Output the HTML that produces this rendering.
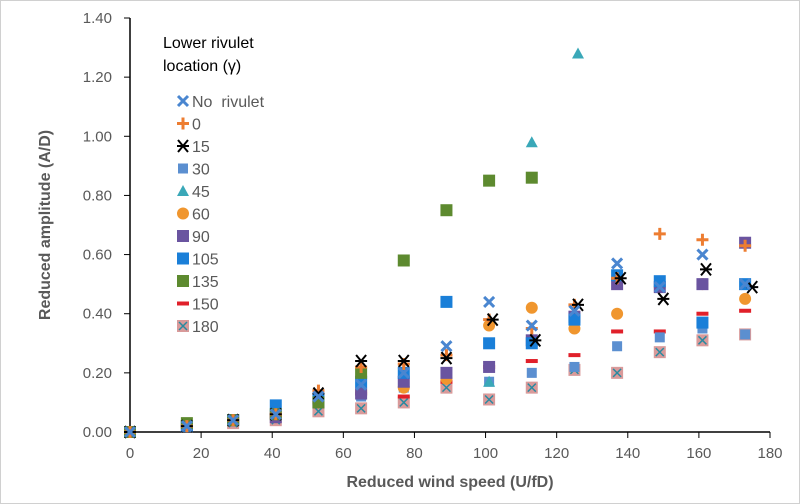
<!DOCTYPE html>
<html><head><meta charset="utf-8"><style>
body{margin:0;background:#fff}
svg{display:block;font-family:"Liberation Sans",Arial,sans-serif}
</style></head><body>
<svg width="800" height="504" viewBox="0 0 800 504">
<rect x="0.5" y="0.5" width="799" height="503" fill="#fff" stroke="#d0d0d0"/>
<g id="axes"></g>
<g id="marks"></g>
<g id="legend"></g>
<text x="450" y="487" text-anchor="middle" font-size="16" font-weight="bold" fill="#595959">Reduced wind speed (U/fD)</text>
<text transform="translate(50,225) rotate(-90)" text-anchor="middle" font-size="16" font-weight="bold" fill="#595959">Reduced amplitude (A/D)</text>
<text x="163" y="48" font-size="16" fill="#000">Lower rivulet</text>
<text x="163" y="71" font-size="16" fill="#000">location (γ)</text>
</svg>
<script>
const xTicks=[0,20,40,60,80,100,120,140,160,180];
const yTicks=[0,0.2,0.4,0.6,0.8,1.0,1.2,1.4];
const seriesNames=["No  rivulet","0","15","30","45","60","90","105","135","150","180"];
const xNo=[0,16,29,41,53,65,77,89,101,113,125,137,149,161,173];
const yNo=[0,0.02,0.04,0.06,0.12,0.16,0.2,0.29,0.44,0.36,0.41,0.57,0.49,0.6,0.5];
const x0=[0,16,29,41,53,65,77,89,101,113,125,137,149,161,173];
const y0=[0,0.02,0.04,0.06,0.14,0.22,0.23,0.26,0.38,0.35,0.43,0.52,0.67,0.65,0.63];
const x15=[0,16,29,41,53,65,77,89,102,114,126,138,150,162,175];
const y15=[0,0.02,0.04,0.06,0.13,0.24,0.24,0.25,0.38,0.31,0.43,0.52,0.45,0.55,0.49];
const x30=[0,16,29,41,53,65,77,89,101,113,125,137,149,161,173];
const y30=[0,0.02,0.04,0.05,0.1,0.12,0.15,0.2,0.17,0.2,0.22,0.29,0.32,0.35,0.33];
const x45=[0,16,29,41,53,65,77,89,101,113,126];
const y45=[0,0.02,0.04,0.06,0.1,0.15,0.17,0.2,0.17,0.98,1.28];
const x60=[0,16,29,41,53,65,77,89,101,113,125,137,149,161,173];
const y60=[0,0.02,0.04,0.05,0.11,0.14,0.15,0.18,0.36,0.42,0.35,0.4,0.49,0.5,0.45];
const x90=[0,16,29,41,53,65,77,89,101,113,125,137,149,161,173];
const y90=[0,0.02,0.04,0.05,0.1,0.13,0.17,0.2,0.22,0.31,0.39,0.5,0.49,0.5,0.64];
const x105=[0,16,29,41,53,65,77,89,101,113,125,137,149,161,173];
const y105=[0,0.02,0.04,0.09,0.11,0.17,0.2,0.44,0.3,0.3,0.38,0.53,0.51,0.37,0.5];
const x135=[0,16,29,41,53,65,77,89,101,113];
const y135=[0,0.03,0.04,0.06,0.1,0.2,0.58,0.75,0.85,0.86];
const x150=[0,16,29,41,53,65,77,89,101,113,125,137,149,161,173];
const y150=[0,0.02,0.03,0.05,0.1,0.13,0.12,0.17,0.22,0.24,0.26,0.34,0.34,0.4,0.41];
const x180=[0,16,29,41,53,65,77,89,101,113,125,137,149,161,173];
const y180=[0,0.02,0.03,0.04,0.07,0.08,0.1,0.15,0.11,0.15,0.21,0.2,0.27,0.31,0.33];

const NS="http://www.w3.org/2000/svg";
const X=v=>130+v*640/180, Y=v=>432-v*414/1.4;
function mk(t,a,p){const e=document.createElementNS(NS,t);for(const k in a)e.setAttribute(k,a[k]);p.appendChild(e);return e;}
const ax=document.getElementById('axes');
const yl=mk('line',{x1:130,y1:18,x2:130,y2:432,stroke:'#000','stroke-width':1.5},ax);


const xl=mk('line',{x1:130,y1:432,x2:770,y2:432,stroke:'#000','stroke-width':1.5},ax);


xTicks.forEach(t=>{
 mk('line',{x1:X(t),y1:432,x2:X(t),y2:438,stroke:'#000'},ax);
 const e=mk('text',{x:X(t),y:458,'text-anchor':'middle','font-size':15,fill:'#595959'},ax);
 e.textContent=t;
 
 
});
yTicks.forEach(t=>{
 mk('line',{x1:124,y1:Y(t),x2:130,y2:Y(t),stroke:'#000'},ax);
 const e=mk('text',{x:112,y:Y(t)+5,'text-anchor':'end','font-size':15,fill:'#595959'},ax);
 e.textContent=t.toFixed(2);
 
 
});
function marker(type,cx,cy,p){
 const g=mk('g',{},p);
 if(type==='x'){mk('path',{d:`M${cx-5},${cy-5}L${cx+5},${cy+5}M${cx-5},${cy+5}L${cx+5},${cy-5}`,stroke:'#4a86d0','stroke-width':3},g);}
 else if(type==='plus'){mk('path',{d:`M${cx-6},${cy}L${cx+6},${cy}M${cx},${cy-6}L${cx},${cy+6}`,stroke:'#ed7d31','stroke-width':3},g);}
 else if(type==='star'){mk('path',{d:`M${cx-5},${cy-6}L${cx+5},${cy+6}M${cx-5},${cy+6}L${cx+5},${cy-6}M${cx-6},${cy}L${cx+6},${cy}`,stroke:'#000','stroke-width':2},g);}
 else if(type==='sq30'){mk('rect',{x:cx-5,y:cy-5,width:10,height:10,fill:'#5b8fd0'},g);}
 else if(type==='tri'){mk('path',{d:`M${cx},${cy-6}L${cx+6},${cy+5}L${cx-6},${cy+5}Z`,fill:'#3aa8b8'},g);}
 else if(type==='circ'){mk('circle',{cx,cy,r:6,fill:'#f0962e'},g);}
 else if(type==='sq90'){mk('rect',{x:cx-6,y:cy-6,width:12,height:12,fill:'#6a54a0'},g);}
 else if(type==='sq105'){mk('rect',{x:cx-6,y:cy-6,width:12,height:12,fill:'#1a7fd8'},g);}
 else if(type==='sq135'){mk('rect',{x:cx-6,y:cy-6,width:12,height:12,fill:'#5d8a2f'},g);}
 else if(type==='dash'){mk('rect',{x:cx-6,y:cy-2,width:12,height:4,fill:'#e0202a'},g);}
 else if(type==='sq180'){mk('rect',{x:cx-6,y:cy-6,width:12,height:12,fill:'#d99a9a'},g);mk('path',{d:`M${cx-4},${cy-4}L${cx+4},${cy+4}M${cx-4},${cy+4}L${cx+4},${cy-4}`,stroke:'#2a8aa0','stroke-width':1.5},g);}
 return g;
}
const types=['x','plus','star','sq30','tri','circ','sq90','sq105','sq135','dash','sq180'];
const xs=[xNo,x0,x15,x30,x45,x60,x90,x105,x135,x150,x180];
const ys=[yNo,y0,y15,y30,y45,y60,y90,y105,y135,y150,y180];
const mg=document.getElementById('marks');
const order=[10,9,3,4,5,6,7,8,1,2,0];
order.forEach(i=>{
 xs[i].forEach((xv,j)=>{
  const m=marker(types[i],X(xv),Y(ys[i][j]),mg);
  
  
 });
});
const lg=document.getElementById('legend');
seriesNames.forEach((n,i)=>{
 const yy=101+i*22.5;
 const m=marker(types[i],183,yy,lg);
 
 
 const t=mk('text',{x:192,y:yy+6,'font-size':16,fill:'#595959'},lg);
 t.textContent=n;
 
 
 t.setAttribute('xml:space','preserve');
 t.style.whiteSpace='pre';
});
</script>
</body></html>
